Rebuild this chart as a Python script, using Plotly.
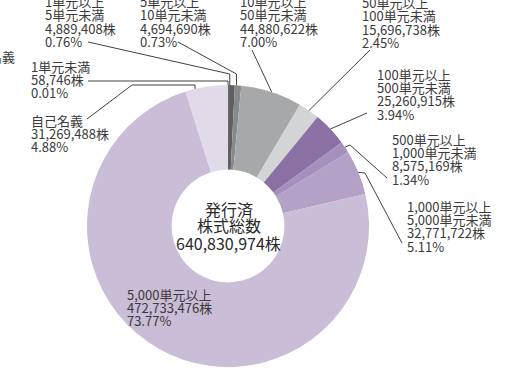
import math
import plotly.graph_objects as go

W, H = 522, 368

# ---- data -----------------------------------------------------------------
range_lines = [
    ["1単元未満"],
    ["1単元以上", "5単元未満"],
    ["5単元以上", "10単元未満"],
    ["10単元以上", "50単元未満"],
    ["50単元以上", "100単元未満"],
    ["100単元以上", "500単元未満"],
    ["500単元以上", "1,000単元未満"],
    ["1,000単元以上", "5,000単元未満"],
    ["5,000単元以上"],
    ["自己名義"],
]
categories = [" ".join(r) for r in range_lines]
shares = [58746, 4889408, 4694690, 44880622, 15696738,
          25260915, 8575169, 32771722, 472733476, 31269488]
colors = ["#231f20", "#5e5f61", "#88898b", "#a7a8aa", "#d3d4d6",
          "#8b70a3", "#a48fbd", "#b3a1c7", "#c9bdd7", "#e1dbe9"]
center_lines = ["発行済", "株式総数", "640,830,974株"]

total = sum(shares)

# ---- layout helpers (pixel coordinates, origin top-left) --------------------
def P(x, y):
    return x / W, 1 - y / H

dom_x = [87 / W, 369 / W]
dom_y = [1 / H, 283 / H]
cx = (dom_x[0] + dom_x[1]) / 2 * W
cy = H - (dom_y[0] + dom_y[1]) / 2 * H
R = min(dom_x[1] - dom_x[0], 0) * 0 + (dom_x[1] - dom_x[0]) * W / 2

def rim_point(i, frac):
    start = sum(shares[:i])
    ang = math.radians(360 * (start + frac * shares[i]) / total)
    return cx + R * math.sin(ang), cy - R * math.cos(ang)

# label block position: (left x, centre of first line)
label_pos = [(29, 66), (43, 1.5), (138, 1.5), (238, 1.5), (360, 2.5),
             (375, 74), (390, 139), (405, 206), (125, 294), (29, 120)]
LINE = 13.4

# leader lines: start, intermediate bends, position inside slice, drop style
leaders = [
    dict(i=0, pts=[(88, 81)], frac=0.5, drop=81),
    dict(i=1, pts=[(88, 42)], frac=0.25, drop=74),
    dict(i=2, pts=[(178, 42)], frac=0.25, drop=74),
    dict(i=3, pts=[(252, 50)], frac=0.5, drop=None),
    dict(i=4, pts=[(370, 50)], frac=0.5, drop=None),
    dict(i=5, pts=[(367, 113)], frac=0.5, drop=None),
    dict(i=6, pts=[(387, 178), (350, 145)], frac=0.5, drop=None),
    dict(i=7, pts=[(402, 243), (365, 173)], frac=0.5, drop=None),
    dict(i=9, pts=[(87, 119), (132, 85)], frac=0.23, drop=85),
]

FONT = "Noto Sans CJK JP, Noto Sans, sans-serif"
TXT = "#3a3a3a"

fig = go.Figure(go.Pie(
    values=shares,
    labels=categories,
    sort=False,
    direction="clockwise",
    rotation=0,
    hole=0.4,
    marker=dict(colors=colors, line=dict(width=0)),
    textinfo="none",
    hoverinfo="label+value+percent",
    domain=dict(x=dom_x, y=dom_y),
    showlegend=False,
))

annotations = []
for i, (x0, y0) in enumerate(label_pos):
    lines = range_lines[i] + [f"{shares[i]:,}株", f"{100 * shares[i] / total:.2f}%"]
    for k, t in enumerate(lines):
        xp, yp = P(x0, y0 + k * LINE)
        annotations.append(dict(
            x=xp, y=yp, xref="paper", yref="paper", text=t, showarrow=False,
            xanchor="left", yanchor="middle",
            font=dict(family=FONT, size=13, color=TXT),
        ))

# text of the neighbouring chart, clipped at the left edge
xp, yp = P(17, 57)
annotations.append(dict(x=xp, y=yp, xref="paper", yref="paper", text="名義",
                        showarrow=False, xanchor="right", yanchor="middle",
                        font=dict(family=FONT, size=13, color=TXT)))

# centre caption
for k, (t, y) in enumerate(zip(center_lines, [209, 225, 243])):
    xp, yp = P(cx + 1, y)
    annotations.append(dict(x=xp, y=yp, xref="paper", yref="paper", text=t,
                            showarrow=False, xanchor="center", yanchor="middle",
                            font=dict(family=FONT, size=16, color="#2a2a2a")))

shapes = []
for ld in leaders:
    ex, ey = rim_point(ld["i"], ld["frac"])
    pts = list(ld["pts"])
    if ld["drop"] is not None:
        pts.append((ex, ld["drop"]))
    pts.append((ex, ey))
    path = ""
    for j, (x, y) in enumerate(pts):
        xp, yp = P(x, y)
        path += ("M" if j == 0 else " L") + f"{xp:.5f},{yp:.5f}"
    shapes.append(dict(type="path", path=path, xref="paper", yref="paper",
                       line=dict(color="#2b2b2b", width=0.9)))

fig.update_layout(
    width=W, height=H,
    margin=dict(l=0, r=0, t=0, b=0),
    paper_bgcolor="white", plot_bgcolor="white",
    annotations=annotations, shapes=shapes,
)

fig.write_html("out.html")
